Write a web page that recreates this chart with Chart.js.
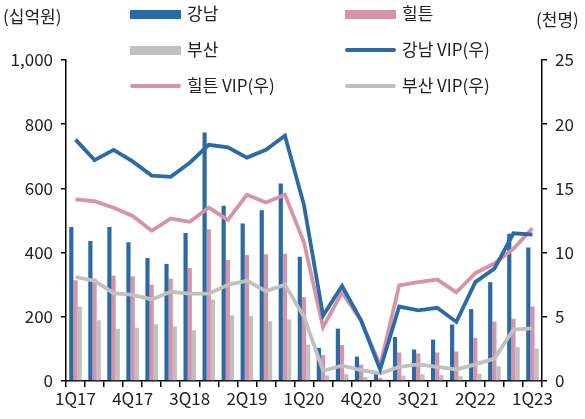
<!DOCTYPE html>
<html>
<head>
<meta charset="utf-8">
<script src="https://cdn.jsdelivr.net/npm/chart.js@4"></script>
<style>
  body { margin: 0; background: #fff; }
  #wrap { position: relative; width: 585px; height: 419px; font-family: "Noto Sans CJK KR", "Noto Sans", sans-serif; color: #222; }
  canvas { position: absolute; left: 0; top: 0; }
  .unit { position: absolute; font-size: 17px; top: 3px; }
  .leg { position: absolute; font-size: 17px; line-height: 20px; white-space: nowrap; }
  .leg span.sw { position: absolute; left: 0; }
</style>
</head>
<body>
<div id="wrap">
  <canvas id="chart" width="585" height="419"></canvas>
  <div class="unit" style="left:3px;">(십억원)</div>
  <div class="unit" style="left:536px;top:6px;">(천명)</div>
  <div id="legend"></div>
</div>
<script>
const quarters = ['1Q17','2Q17','3Q17','4Q17','1Q18','2Q18','3Q18','4Q18','1Q19','2Q19','3Q19','4Q19',
  '1Q20','2Q20','3Q20','4Q20','1Q21','2Q21','3Q21','4Q21','1Q22','2Q22','3Q22','4Q22','1Q23'];

// 매출 (십억원)
const gangnam = [480, 436, 480, 432, 383, 365, 461, 774, 546, 491, 532, 615, 387, 103, 163, 76, 31, 137, 98, 129, 176, 224, 308, 459, 416];
const hilton  = [314, 319, 328, 326, 300, 319, 352, 473, 377, 393, 395, 397, 261, 81, 112, 51, 10, 89, 86, 89, 92, 134, 185, 194, 232];
const busan   = [232, 189, 163, 166, 177, 170, 158, 254, 205, 202, 186, 192, 114, 18, 21, 13, 5, 17, 21, 18, 15, 23, 46, 106, 101];

// VIP 입장객 (천명, 우축)
const gangnamVip = [18.8, 17.2, 18.0, 17.1, 16.0, 15.9, 17.0, 18.4, 18.2, 17.4, 18.0, 19.1, 13.7, 5.1, 7.4, 4.7, 0.9, 5.8, 5.5, 5.7, 4.6, 7.7, 8.75, 11.5, 11.4];
const hiltonVip  = [14.15, 14.0, 13.5, 12.85, 11.7, 12.65, 12.4, 13.5, 12.55, 14.5, 13.9, 14.5, 10.8, 4.2, 6.9, 4.7, 1.2, 7.45, 7.7, 7.9, 6.9, 8.4, 9.15, 10.3, 11.9];
const busanVip   = [8.1, 7.8, 6.85, 6.7, 6.35, 6.95, 6.8, 6.8, 7.5, 7.8, 7.0, 7.5, 5.0, 0.8, 1.2, 0.85, 0.6, 1.1, 1.3, 1.1, 0.9, 1.3, 1.75, 4.0, 4.1];

const leftTicks = [0, 200, 400, 600, 800, 1000];
const rightTicks = [0, 5, 10, 15, 20, 25];

const BLUE = '#2c6aa5';
const PINK = '#d694aa';
const GRAY = '#c0c0c0';

const fontSpec = { family: '"Noto Sans CJK KR", "Noto Sans", sans-serif', size: 17 };

function barSet(label, data, color) {
    return { type: 'bar', label: label, data: data, backgroundColor: color, borderWidth: 0,
             yAxisID: 'y', categoryPercentage: 0.66, barPercentage: 1.0, order: 2 };
}
function lineSet(label, data, color) {
    return { type: 'line', label: label, data: data, borderColor: color, backgroundColor: color,
             borderWidth: 3.8, pointRadius: 0, tension: 0, yAxisID: 'y1', order: 1 };
}

const ctx = document.getElementById('chart').getContext('2d');
new Chart(ctx, {
    data: {
        labels: quarters,
        datasets: [
            barSet('강남', gangnam, BLUE),
            barSet('힐튼', hilton, PINK),
            barSet('부산', busan, GRAY),
            lineSet('강남 VIP(우)', gangnamVip, BLUE),
            lineSet('힐튼 VIP(우)', hiltonVip, PINK),
            lineSet('부산 VIP(우)', busanVip, GRAY)
        ]
    },
    options: {
        responsive: false,
        animation: false,
        layout: { padding: { top: 60, left: 0, right: 0, bottom: 0 } },
        plugins: { legend: { display: false }, tooltip: { enabled: false } },
        scales: {
            x: {
                offset: true,
                grid: { display: true, offset: true, drawOnChartArea: false, color: '#000', lineWidth: 1.5, tickLength: 6 },
                border: { color: '#000', width: 1.5 },
                ticks: {
                    autoSkip: false, maxRotation: 0, color: '#222', font: fontSpec, padding: 1,
                    callback: function(v, i) { return i % 3 === 0 ? quarters[i] : ''; }
                },
                afterFit: s => { s.height = 38; }
            },
            y: {
                position: 'left', min: 0, max: 1000,
                afterBuildTicks: s => { s.ticks = leftTicks.map(v => ({ value: v })); },
                grid: { drawOnChartArea: false, color: '#000', lineWidth: 1.5, tickLength: 5 },
                border: { color: '#000', width: 1.5 },
                ticks: { color: '#222', font: fontSpec, padding: 8,
                         callback: v => v.toLocaleString('en-US') },
                afterFit: s => { s.width = 66; }
            },
            y1: {
                position: 'right', min: 0, max: 25,
                afterBuildTicks: s => { s.ticks = rightTicks.map(v => ({ value: v })); },
                grid: { drawOnChartArea: false, color: '#000', lineWidth: 1.5, tickLength: 5 },
                border: { color: '#000', width: 1.5 },
                ticks: { color: '#222', font: fontSpec, padding: 8 },
                afterFit: s => { s.width = 43; }
            }
        }
    }
});

// 범례 (2열 x 3행)
const legendItems = [
    { text: '강남', color: BLUE, kind: 'bar', x: 130, y: 14 },
    { text: '힐튼', color: PINK, kind: 'bar', x: 345, y: 14 },
    { text: '부산', color: GRAY, kind: 'bar', x: 130, y: 50 },
    { text: '강남 VIP(우)', color: BLUE, kind: 'line', x: 345, y: 50 },
    { text: '힐튼 VIP(우)', color: PINK, kind: 'line', x: 130, y: 86 },
    { text: '부산 VIP(우)', color: GRAY, kind: 'line', x: 345, y: 86 }
];
const legendEl = document.getElementById('legend');
legendItems.forEach(it => {
    const d = document.createElement('div');
    d.className = 'leg';
    d.style.left = it.x + 'px';
    d.style.top = (it.y - 11) + 'px';
    d.style.paddingLeft = '57px';
    const sw = document.createElement('span');
    sw.className = 'sw';
    sw.style.width = '51px';
    sw.style.background = it.color;
    if (it.kind === 'bar') {
        sw.style.height = '9px';
        sw.style.top = '7px';
    } else {
        sw.style.height = '4px';
        sw.style.top = '9px';
        sw.style.borderRadius = '2px';
    }
    d.appendChild(sw);
    d.appendChild(document.createTextNode(it.text));
    legendEl.appendChild(d);
});
</script>
</body>
</html>
